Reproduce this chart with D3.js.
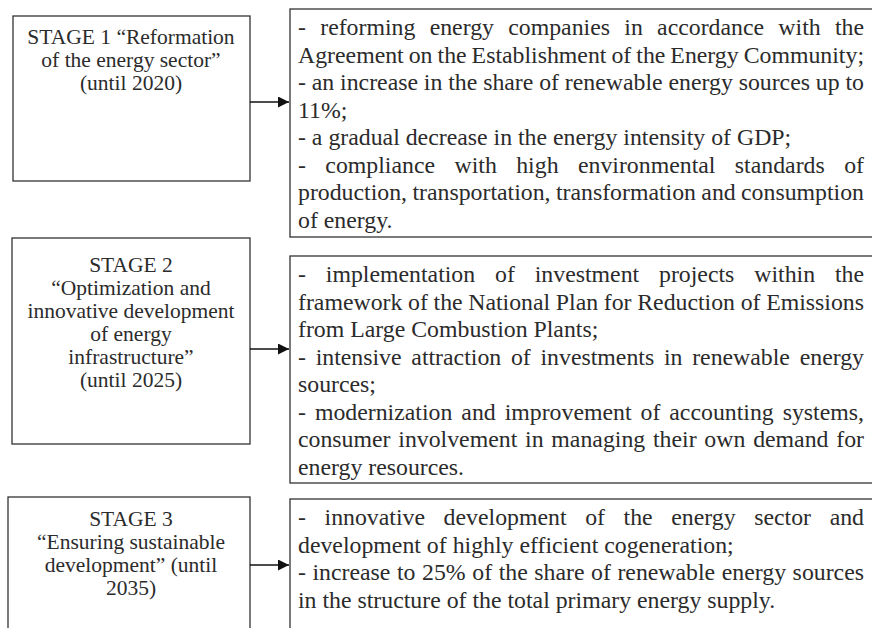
<!DOCTYPE html>
<html>
<head>
<meta charset="utf-8">
<script src="https://cdn.jsdelivr.net/npm/d3@7"></script>
<style>
  body { margin: 0; background: #fff; }
  svg { display: block; }
</style>
</head>
<body>
<div id="chart"></div>
<script>
let width = 872,
  height = 628

// stage boxes (left column), one array of lines per stage
let stageTitles = [
  ['STAGE 1 \u201cReformation', 'of the energy sector\u201d', '(until 2020)'],
  ['STAGE 2', '\u201cOptimization and', 'innovative development', 'of energy', 'infrastructure\u201d', '(until 2025)'],
  ['STAGE 3', '\u201cEnsuring sustainable', 'development\u201d (until', '2035)']
]

// measures per stage (right column): paragraphs -> lines as printed
let stageMeasures = [
  [
    ['- reforming energy companies in accordance with the', 'Agreement on the Establishment of the Energy Community;'],
    ['- an increase in the share of renewable energy sources up to', '11%;'],
    ['- a gradual decrease in the energy intensity of GDP;'],
    ['- compliance with high environmental standards of', 'production, transportation, transformation and consumption', 'of energy.']
  ],
  [
    ['- implementation of investment projects within the', 'framework of the National Plan for Reduction of Emissions', 'from Large Combustion Plants;'],
    ['- intensive attraction of investments in renewable energy', 'sources;'],
    ['- modernization and improvement of accounting systems,', 'consumer involvement in managing their own demand for', 'energy resources.']
  ],
  [
    ['- innovative development of the energy sector and', 'development of highly efficient cogeneration;'],
    ['- increase to 25% of the share of renewable energy sources', 'in the structure of the total primary energy supply.']
  ]
]

// layout of the three rows
let leftX = [13, 12, 8],
  leftRight = 250,
  leftTop = [16, 238, 497],
  leftBottom = [181, 444, 650],
  rightX = 290,
  rightTop = [9, 256, 499],
  rightBottom = [237, 483, 650],
  arrowY = [102, 349, 565],
  titleFirst = [44, 272, 526],
  titleStep = 23,
  textLeft = 298,
  textRight = 864,
  measureStep = 27.5

let serif = '"Liberation Serif", Tinos, "Times New Roman", "DejaVu Serif", serif'

let svg = d3.select('#chart').append('svg')
  .attr('width', width)
  .attr('height', height)
  .attr('font-family', serif)

svg.append('defs').append('marker')
  .attr('id', 'head')
  .attr('viewBox', '0 0 10 10')
  .attr('refX', 10)
  .attr('refY', 5)
  .attr('markerUnits', 'userSpaceOnUse')
  .attr('markerWidth', 13)
  .attr('markerHeight', 11)
  .attr('orient', 'auto')
  .append('path')
  .attr('d', 'M0,0L10,5L0,10Z')
  .attr('fill', '#111')

let rows = svg.selectAll('.row')
  .data(stageTitles)
  .enter().append('g')
  .attr('class', 'row')

// left boxes
rows.append('rect')
  .attr('x', (d, i) => leftX[i])
  .attr('y', (d, i) => leftTop[i])
  .attr('width', (d, i) => leftRight - leftX[i])
  .attr('height', (d, i) => leftBottom[i] - leftTop[i])
  .attr('fill', 'none')
  .attr('stroke', '#333')
  .attr('stroke-width', 1.3)

rows.append('text')
  .attr('text-anchor', 'middle')
  .attr('fill', '#2b2b2b')
  .style('font-family', serif)
  .style('font-size', '21.5px')
  .selectAll('tspan')
  .data((d, i) => d.map((line, k) => ({ line: line, y: titleFirst[i] + k * titleStep })))
  .enter().append('tspan')
  .attr('x', 131)
  .attr('y', d => d.y)
  .text(d => d.line)

// right boxes
rows.append('rect')
  .attr('x', rightX)
  .attr('y', (d, i) => rightTop[i])
  .attr('width', width + 20 - rightX)
  .attr('height', (d, i) => rightBottom[i] - rightTop[i])
  .attr('fill', 'none')
  .attr('stroke', '#333')
  .attr('stroke-width', 1.3)

// arrows
rows.append('line')
  .attr('x1', leftRight)
  .attr('x2', rightX - 1)
  .attr('y1', (d, i) => arrowY[i])
  .attr('y2', (d, i) => arrowY[i])
  .attr('stroke', '#111')
  .attr('stroke-width', 1.3)
  .attr('marker-end', 'url(#head)')

// justified measure text (last line of a paragraph stays ragged unless it overflows)
stageMeasures.forEach(function (paras, i) {
  let lines = []
  paras.forEach(function (p) {
    p.forEach(function (line, k) {
      lines.push({ line: line, justify: k < p.length - 1 })
    })
  })
  let g = svg.append('g').attr('class', 'measures')
  g.selectAll('text')
    .data(lines)
    .enter().append('text')
    .attr('x', textLeft)
    .attr('y', (d, k) => rightTop[i] + 26 + k * measureStep)
    .attr('fill', '#2b2b2b')
    .style('font-family', serif)
    .style('font-size', '23.8px')
    .style('white-space', 'pre')
    .text(d => d.line)
    .each(function (d) {
      let natural = this.getComputedTextLength()
      let room = textRight - textLeft
      if (!d.justify && natural <= room) return
      let gaps = d.line.split(' ').length - 1
      if (gaps > 0) {
        d3.select(this).style('word-spacing', ((room - natural) / gaps) + 'px')
      }
    })
})
</script>
</body>
</html>
